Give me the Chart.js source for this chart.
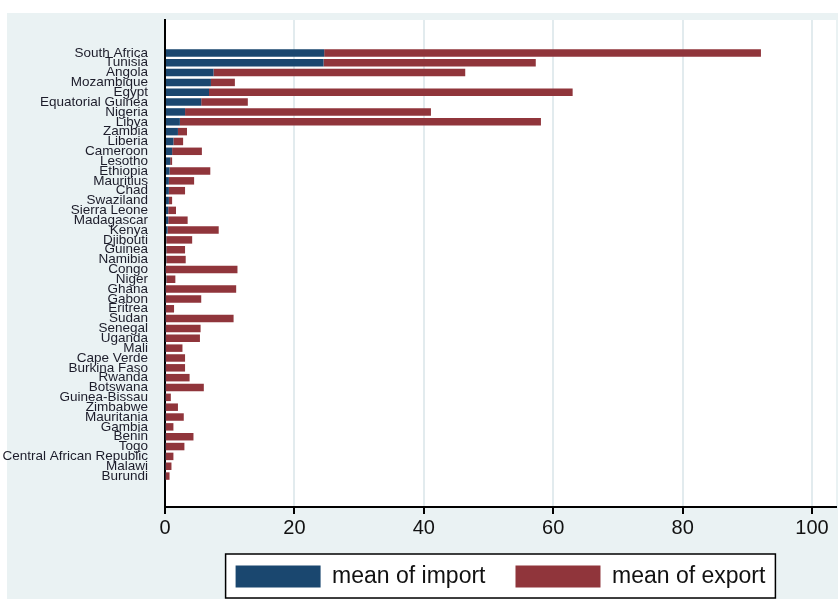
<!DOCTYPE html>
<html>
<head>
<meta charset="utf-8">
<script src="https://cdn.jsdelivr.net/npm/chart.js@4"></script>
<style>
  html, body { margin: 0; padding: 0; background: #fff; }
  #wrap { width: 838px; height: 599px; }
</style>
</head>
<body>
<div id="wrap"><canvas id="barChart" width="838" height="599"></canvas></div>
<script>
const countries = ['South Africa', 'Tunisia', 'Angola', 'Mozambique', 'Egypt', 'Equatorial Guinea', 'Nigeria', 'Libya',
    'Zambia', 'Liberia', 'Cameroon', 'Lesotho', 'Ethiopia', 'Mauritius', 'Chad', 'Swaziland', 'Sierra Leone',
    'Madagascar', 'Kenya', 'Djibouti', 'Guinea', 'Namibia', 'Congo', 'Niger', 'Ghana', 'Gabon', 'Eritrea', 'Sudan',
    'Senegal', 'Uganda', 'Mali', 'Cape Verde', 'Burkina Faso', 'Rwanda', 'Botswana', 'Guinea-Bissau', 'Zimbabwe',
    'Mauritania', 'Gambia', 'Benin', 'Togo', 'Central African Republic', 'Malawi', 'Burundi'];

// mean of import (blue part)
const importMean = [24.6, 24.5, 7.5, 7.1, 6.8, 5.6, 3.1, 2.3,
    2.0, 1.3, 1.1, 0.8, 0.7, 0.6, 0.6, 0.6, 0.5,
    0.5, 0.4, 0.2, 0.2, 0.2, 0.1, 0.2, 0.1, 0.1, 0.1, 0.1,
    0.1, 0.1, 0.1, 0.1, 0.1, 0.1, 0.1, 0.1, 0.1,
    0.1, 0.1, 0.1, 0.1, 0.1, 0.1, 0.1];

// mean of export (red part, stacked after import)
const exportMean = [67.5, 32.8, 38.9, 3.7, 56.2, 7.2, 38.0, 55.8,
    1.4, 1.5, 4.6, 0.3, 6.3, 3.9, 2.5, 0.5, 1.2,
    3.0, 7.9, 4.0, 2.9, 3.0, 11.1, 1.4, 10.9, 5.5, 1.3, 10.5,
    5.4, 5.3, 2.6, 3.0, 3.0, 3.7, 5.9, 0.8, 1.9,
    2.8, 1.2, 4.3, 2.9, 1.2, 0.9, 0.6];

const xTicks = [0, 20, 40, 60, 80, 100];

const bgColor = '#eaf2f3';
const gridColor = '#e2ebee';

const backdrop = {
    id: 'backdrop',
    beforeDraw(chart) {
        const ctx = chart.ctx;
        const area = chart.chartArea;
        ctx.save();
        ctx.fillStyle = '#ffffff';
        ctx.fillRect(0, 0, chart.width, chart.height);
        ctx.fillStyle = bgColor;
        ctx.fillRect(7, 13, chart.width - 7, chart.height - 13);
        ctx.fillStyle = '#ffffff';
        ctx.fillRect(area.left, area.top, area.right - area.left, area.bottom - area.top);

        // box round the legend
        const boxes = chart.legend.legendHitBoxes;
        if (boxes && boxes.length) {
            let l = Infinity, r = -Infinity, t = Infinity, b = -Infinity;
            boxes.forEach(hb => {
                l = Math.min(l, hb.left);
                r = Math.max(r, hb.left + hb.width);
                t = Math.min(t, hb.top);
                b = Math.max(b, hb.top + hb.height);
            });
            ctx.fillStyle = '#ffffff';
            ctx.fillRect(l - 10, t - 11, r - l + 20, b - t + 21);
            ctx.strokeStyle = '#000000';
            ctx.lineWidth = 1.5;
            ctx.strokeRect(l - 10, t - 11, r - l + 20, b - t + 21);
        }
        ctx.restore();
    }
};

const data = {
    datasets: [
        {
            label: 'mean of import',
            backgroundColor: '#1a476f',
            borderColor: '#1a476f',
            borderWidth: 0,
            data: importMean.map((v, i) => ({x: v, y: i}))
        },
        {
            label: 'mean of export',
            backgroundColor: '#90353b',
            borderColor: '#90353b',
            borderWidth: 0,
            data: exportMean.map((v, i) => ({x: v, y: i}))
        }
    ]
};

window.onload = function () {
    const ctx = document.getElementById('barChart').getContext('2d');
    window.barChart = new Chart(ctx, {
        type: 'bar',
        data: data,
        plugins: [backdrop],
        options: {
            indexAxis: 'y',
            responsive: false,
            animation: false,
            layout: {padding: {top: 20, right: 2, bottom: 1, left: 0}},
            datasets: {bar: {barPercentage: 0.76, categoryPercentage: 1.0}},
            plugins: {
                legend: {
                    position: 'bottom',
                    fullSize: false,
                    labels: {
                        boxWidth: 85,
                        boxHeight: 22,
                        padding: 30,
                        color: '#111',
                        font: {family: 'Liberation Sans, Arial, sans-serif', size: 23}
                    }
                },
                tooltip: {enabled: false}
            },
            scales: {
                x: {
                    type: 'linear',
                    stacked: true,
                    min: 0,
                    max: 103.7,
                    afterBuildTicks: scale => { scale.ticks = xTicks.map(v => ({value: v})); },
                    afterFit: scale => { scale.height = 28; },
                    grid: {color: gridColor, lineWidth: 2, tickColor: '#000', tickWidth: 2, tickLength: 7},
                    border: {display: true, color: '#000', width: 2},
                    ticks: {
                        color: '#111',
                        padding: 2,
                        maxRotation: 0,
                        font: {family: 'Liberation Sans, Arial, sans-serif', size: 20}
                    }
                },
                y: {
                    type: 'linear',
                    stacked: true,
                    reverse: true,
                    min: -2.78,
                    max: 45.58,
                    afterBuildTicks: scale => { scale.ticks = countries.map((c, i) => ({value: i})); },
                    afterFit: scale => { scale.width = 165; },
                    grid: {display: false},
                    border: {display: true, color: '#000', width: 2},
                    ticks: {
                        autoSkip: false,
                        padding: 9,
                        color: '#1c1c2a',
                        font: {family: 'Liberation Sans, Arial, sans-serif', size: 13.5},
                        callback: v => countries[v]
                    }
                }
            }
        }
    });
};
</script>
</body>
</html>
